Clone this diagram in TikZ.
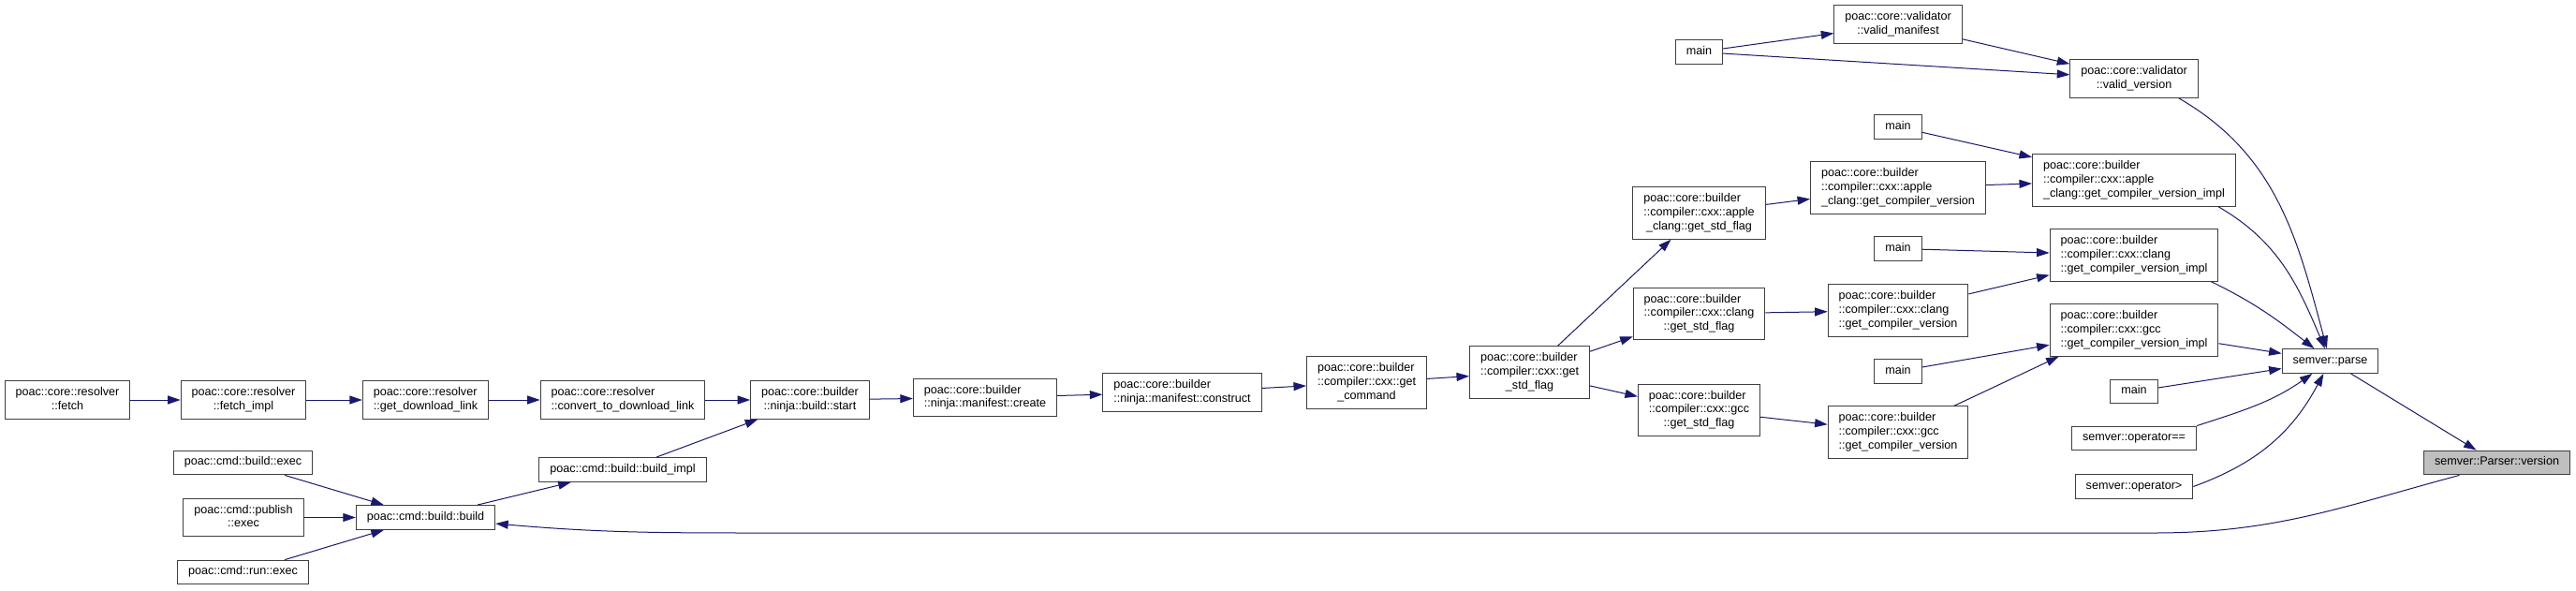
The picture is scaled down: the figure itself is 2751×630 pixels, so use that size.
\documentclass[tikz,border=0pt]{standalone}
\usepackage{fontspec}
\setmainfont{Liberation Sans}
\usetikzlibrary{arrows.meta}

\definecolor{edgeblue}{HTML}{191970}
\definecolor{boxgray}{HTML}{404040}
\definecolor{hilite}{HTML}{BFBFBF}
% all lines but the last one flush left, the last one centred
\newcommand{\fnlabel}[2]{\begin{tabular}{@{}l@{}}#1\\\multicolumn{1}{@{}c@{}}{#2}\end{tabular}}

\begin{document}
\begin{tikzpicture}[x=1pt,y=1pt,
  fnbox/.style={draw=boxgray,line width=1pt,fill=white,inner xsep=11.5pt,inner ysep=5.5pt,
    font=\fontsize{12.6}{14.8}\selectfont},
  edge/.style={color=edgeblue,line width=1pt,-{Triangle[length=13.5pt,width=9pt]}}]
\useasboundingbox (0,0) rectangle (2751,-630);
\fill[white] (0,0) rectangle (2751,-630);

% resolver and builder chain
\node[fnbox] (fetch) at (72,-427) {\fnlabel{poac::core::resolver}{::fetch}};
\node[fnbox] (fetchimpl) at (260,-427) {\fnlabel{poac::core::resolver}{::fetch\_impl}};
\node[fnbox] (dllink) at (454.5,-427) {\fnlabel{poac::core::resolver}{::get\_download\_link}};
\node[fnbox] (convlink) at (665,-427) {\fnlabel{poac::core::resolver}{::convert\_to\_download\_link}};
\node[fnbox] (start) at (865,-427) {\fnlabel{poac::core::builder}{::ninja::build::start}};
\node[fnbox] (create) at (1052,-424.5) {\fnlabel{poac::core::builder}{::ninja::manifest::create}};
\node[fnbox] (construct) at (1262.5,-419) {\fnlabel{poac::core::builder}{::ninja::manifest::construct}};
\node[fnbox] (getcmd) at (1459.5,-408.5) {\fnlabel{poac::core::builder\\::compiler::cxx::get}{\_command}};
\node[fnbox] (stdflag) at (1633.5,-397.5) {\fnlabel{poac::core::builder\\::compiler::cxx::get}{\_std\_flag}};

% compiler specific
\node[fnbox] (applestd) at (1814.5,-227.5) {\fnlabel{poac::core::builder\\::compiler::cxx::apple}{\_clang::get\_std\_flag}};
\node[fnbox] (clangstd) at (1814.5,-335) {\fnlabel{poac::core::builder\\::compiler::cxx::clang}{::get\_std\_flag}};
\node[fnbox] (gccstd) at (1814.5,-438) {\fnlabel{poac::core::builder\\::compiler::cxx::gcc}{::get\_std\_flag}};
\node[fnbox] (mainA) at (1814.5,-55.5) {\strut main};
\node[fnbox] (validman) at (2027,-26) {\fnlabel{poac::core::validator}{::valid\_manifest}};
\node[fnbox] (mainB) at (2027,-135.5) {\strut main};
\node[fnbox] (applever) at (2027,-200.5) {\fnlabel{poac::core::builder\\::compiler::cxx::apple}{\_clang::get\_compiler\_version}};
\node[fnbox] (mainC) at (2027,-265.5) {\strut main};
\node[fnbox] (clangver) at (2027,-331.5) {\fnlabel{poac::core::builder\\::compiler::cxx::clang}{::get\_compiler\_version}};
\node[fnbox] (mainD) at (2027,-396.5) {\strut main};
\node[fnbox] (gccver) at (2027,-461.5) {\fnlabel{poac::core::builder\\::compiler::cxx::gcc}{::get\_compiler\_version}};
\node[fnbox] (validver) at (2279,-84) {\fnlabel{poac::core::validator}{::valid\_version}};
\node[fnbox] (appleimpl) at (2279,-192.5) {\fnlabel{poac::core::builder\\::compiler::cxx::apple}{\_clang::get\_compiler\_version\_impl}};
\node[fnbox] (clangimpl) at (2279,-272.5) {\fnlabel{poac::core::builder\\::compiler::cxx::clang}{::get\_compiler\_version\_impl}};
\node[fnbox] (gccimpl) at (2279,-352.5) {\fnlabel{poac::core::builder\\::compiler::cxx::gcc}{::get\_compiler\_version\_impl}};
\node[fnbox] (mainE) at (2279,-418) {\strut main};
\node[fnbox] (opeq) at (2279,-468) {\strut semver::operator==};
\node[fnbox] (opgt) at (2279,-519.5) {\strut semver::operator>};
\node[fnbox] (parse) at (2488.5,-385.5) {\strut semver::parse};
\node[fnbox,fill=hilite] (pversion) at (2666.5,-494) {\strut semver::Parser::version};

% cmd side
\node[fnbox] (buildexec) at (259.5,-494) {\strut poac::cmd::build::exec};
\node[fnbox] (publish) at (260,-552.5) {\fnlabel{poac::cmd::publish}{::exec}};
\node[fnbox] (runexec) at (259.5,-611) {\strut poac::cmd::run::exec};
\node[fnbox] (build) at (454.5,-552.5) {\strut poac::cmd::build::build};
\node[fnbox] (buildimpl) at (665,-501.5) {\strut poac::cmd::build::build\_impl};

% edges
\draw[edge] (fetch) -- (fetchimpl);
\draw[edge] (fetchimpl) -- (dllink);
\draw[edge] (dllink) -- (convlink);
\draw[edge] (convlink) -- (start);
\draw[edge] (buildimpl) -- (start);
\draw[edge] (start) -- (create);
\draw[edge] (create) -- (construct);
\draw[edge] (construct) -- (getcmd);
\draw[edge] (getcmd) -- (stdflag);
\draw[edge] (stdflag) -- (applestd);
\draw[edge] (stdflag) -- (clangstd);
\draw[edge] (stdflag) -- (gccstd);
\draw[edge] (applestd) -- (applever);
\draw[edge] (clangstd) -- (clangver);
\draw[edge] (gccstd) -- (gccver);
\draw[edge] (mainA) -- (validman);
\draw[edge] (mainA) -- (validver);
\draw[edge] (validman) -- (validver);
\draw[edge] (mainB) -- (appleimpl);
\draw[edge] (applever) -- (appleimpl);
\draw[edge] (mainC) -- (clangimpl);
\draw[edge] (clangver) -- (clangimpl);
\draw[edge] (mainD) -- (gccimpl);
\draw[edge] (gccver) -- ([xshift=10pt]gccimpl.south west);

% into semver::parse
\draw[edge] ([xshift=-21pt]validver.south east) to[out=-30,in=105] (parse);
\draw[edge] ([xshift=-19pt]appleimpl.south east) to[out=-30,in=113] (parse);
\draw[edge] ([xshift=-8pt]clangimpl.south east) to[out=-26,in=142] (parse);
\draw[edge] (gccimpl) -- (parse);
\draw[edge] (mainE) -- (parse);
\draw[edge] (opeq.north east) to[out=18,in=-145] (parse);
\draw[edge] (opgt.east) to[out=20,in=-118] (parse);
\draw[edge] (parse) -- (pversion);

% long way back
\coordinate (bendR) at (2300,-569);
\coordinate (bendL) at (820,-569);
\draw[edge] ([xshift=-40pt]pversion.south) to[out=-165,in=0] (bendR) -- (bendL) to[out=180,in=-5] (build);

\draw[edge] (buildexec) -- (build);
\draw[edge] (publish) -- (build);
\draw[edge] (runexec) -- (build);
\draw[edge] (build) -- (buildimpl);
\end{tikzpicture}
\end{document}
